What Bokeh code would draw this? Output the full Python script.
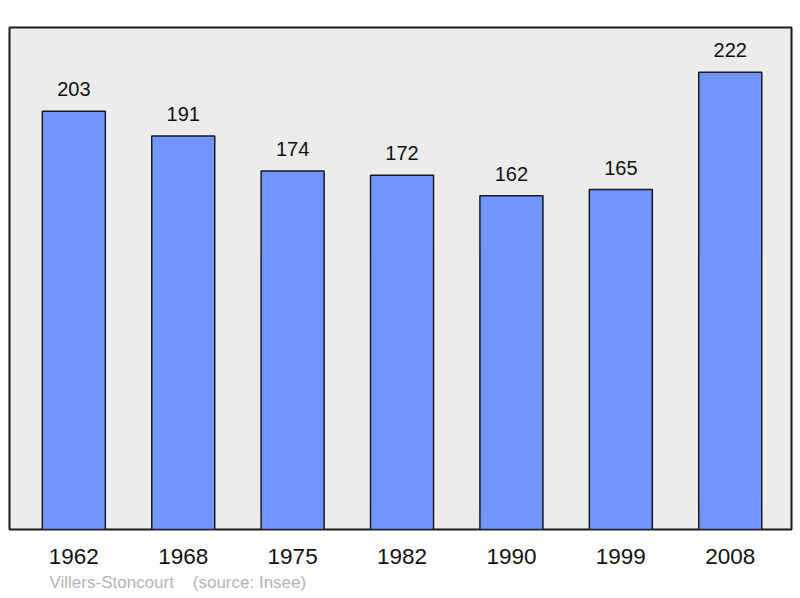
from bokeh.plotting import figure
from bokeh.models import ColumnDataSource, LabelSet, Title, FixedTicker, Range1d
from bokeh.core.properties import value
from bokeh.embed import file_html
from bokeh.resources import INLINE

years = ["1962", "1968", "1975", "1982", "1990", "1999", "2008"]
population = [203, 191, 174, 172, 162, 165, 222]
source_text = "Villers-Stoncourt\u00a0\u00a0\u00a0\u00a0(source: Insee)"

xs = list(range(len(years)))
src = ColumnDataSource(dict(x=xs, top=population, lab=[str(v) for v in population]))

p = figure(width=800, height=598, output_backend="svg", toolbar_location=None,
           x_range=Range1d(-0.588, 6.56), y_range=Range1d(0, 243.7),
           min_border_left=9, min_border_right=9, min_border_top=27, min_border_bottom=69)
p.background_fill_color = "#ececec"
p.border_fill_color = "white"
p.outline_line_color = "#1a1a1a"
p.outline_line_width = 2
p.grid.visible = False
p.yaxis.visible = False

p.vbar(x="x", top="top", bottom=0, width=0.576, source=src,
       fill_color="#7095ff", line_color="#1a1a1a", line_width=1.5)

p.add_layout(LabelSet(x="x", y="top", text="lab", source=src, text_align="center",
                      text_baseline="alphabetic", y_offset=15,
                      text_font=value("Liberation Sans"), text_font_size=value("20px"),
                      text_color=value("#111111")))

ax = p.xaxis[0]
ax.ticker = FixedTicker(ticks=xs)
ax.major_label_overrides = {i: y for i, y in enumerate(years)}
ax.axis_line_color = None
ax.major_tick_line_color = None
ax.minor_tick_line_color = None
ax.major_tick_out = 0
ax.major_tick_in = 0
ax.major_label_standoff = 19
ax.major_label_text_font = "Liberation Sans"
ax.major_label_text_font_size = "22.5px"
ax.major_label_text_color = "#111111"

p.add_layout(Title(text=source_text, align="left", offset=40, standoff=9,
                   text_font="Liberation Sans", text_font_size="17px",
                   text_font_style="normal", text_color="#b4b4b4"), "below")

open("out.html", "w").write(file_html(p, INLINE))
